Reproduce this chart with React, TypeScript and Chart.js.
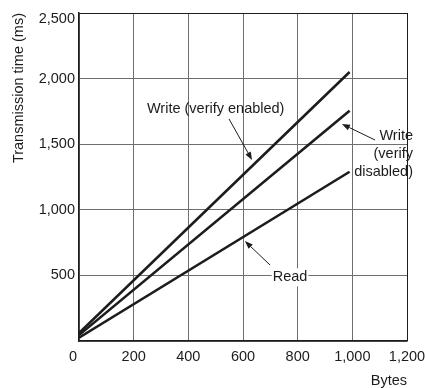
import React, { useEffect, useRef } from "react";
import { Chart, registerables } from "chart.js";

Chart.register(...registerables);

const bytes = [0, 990];
const writeEnabled = [60, 2050];
const writeDisabled = [45, 1755];
const readTimes = [25, 1290];

const xTicks = [0, 200, 400, 600, 800, 1000, 1200];
const yTicks = [0, 500, 1000, 1500, 2000, 2500];

const labelEnabled = { lines: ["Write (verify enabled)"], x: 500, y: 1768, align: "center", bg: false };
const labelDisabled = { lines: ["Write", "(verify", "disabled)"], x: 1222, y: 1425, align: "right", bg: false };
const labelRead = { lines: ["Read"], x: 772, y: 485, align: "center", bg: true };

const arrowEnabled = { from: [549, 1692], to: [633, 1380] };
const arrowDisabled = { from: [1083, 1532], to: [962, 1654] };
const arrowRead = { from: [699, 579], to: [607, 762] };

const FONT = "'Liberation Sans', Arial, Helvetica, sans-serif";
const FS = 14.5;
const INK = "#1c1c1c";

const annotationPlugin = {
  id: "annots",
  afterDatasetsDraw(chart: any) {
    const ctx = chart.ctx;
    const xs = chart.scales.x;
    const ys = chart.scales.y;
    ctx.save();
    ctx.font = `${FS}px ${FONT}`;
    ctx.textBaseline = "middle";
    const lineGap = 18;
    for (const lab of [labelEnabled, labelDisabled, labelRead]) {
      const px = xs.getPixelForValue(lab.x);
      const py = ys.getPixelForValue(lab.y);
      const n = lab.lines.length;
      lab.lines.forEach((t, i) => {
        const yy = py + (i - (n - 1) / 2) * lineGap;
        const w = ctx.measureText(t).width;
        let left = px;
        if (lab.align === "center") left = px - w / 2;
        else if (lab.align === "right") left = px - w;
        if (lab.bg) {
          ctx.fillStyle = "#ffffff";
          ctx.fillRect(left - 1, yy - 9, w + 2, 18);
        }
        ctx.fillStyle = INK;
        ctx.textAlign = "left";
        ctx.fillText(t, left, yy);
      });
    }
    for (const a of [arrowEnabled, arrowDisabled, arrowRead]) {
      const x1 = xs.getPixelForValue(a.from[0]);
      const y1 = ys.getPixelForValue(a.from[1]);
      const x2 = xs.getPixelForValue(a.to[0]);
      const y2 = ys.getPixelForValue(a.to[1]);
      const ang = Math.atan2(y2 - y1, x2 - x1);
      const hl = 8;
      const hw = 3;
      const bx = x2 - hl * Math.cos(ang);
      const by = y2 - hl * Math.sin(ang);
      ctx.strokeStyle = INK;
      ctx.lineWidth = 1;
      ctx.beginPath();
      ctx.moveTo(x1, y1);
      ctx.lineTo(bx, by);
      ctx.stroke();
      ctx.fillStyle = INK;
      ctx.beginPath();
      ctx.moveTo(x2, y2);
      ctx.lineTo(bx + hw * Math.sin(ang), by - hw * Math.cos(ang));
      ctx.lineTo(bx - hw * Math.sin(ang), by + hw * Math.cos(ang));
      ctx.closePath();
      ctx.fill();
    }
    ctx.restore();
  },
};

export default function App() {
  const ref = useRef<HTMLCanvasElement | null>(null);
  useEffect(() => {
    if (!ref.current) return;
    const mk = (vals: number[]) => bytes.map((b, i) => ({ x: b, y: vals[i] }));
    const ds = (label: string, vals: number[]) => ({
      label,
      data: mk(vals),
      borderColor: INK,
      borderWidth: 2.6,
      pointRadius: 0,
      fill: false,
      tension: 0,
    });
    const gridColor = (c: any) => {
      const v = c.tick && c.tick.value;
      return v === 1200 || v === 2500 ? INK : "#6e6e6e";
    };
    const chart = new Chart(ref.current, {
      type: "line",
      data: {
        datasets: [
          ds("Write (verify enabled)", writeEnabled),
          ds("Write (verify disabled)", writeDisabled),
          ds("Read", readTimes),
        ],
      },
      options: {
        animation: false,
        responsive: false,
        layout: { padding: { left: 0, right: 18, top: 13, bottom: 0 } },
        plugins: { legend: { display: false }, tooltip: { enabled: false } },
        scales: {
          x: {
            type: "linear",
            min: 0,
            max: 1200,
            afterBuildTicks: (s: any) => {
              s.ticks = xTicks.map((v) => ({ value: v }));
            },
            afterFit: (s: any) => {
              s.height = 47;
              s.paddingLeft = 0;
              s.paddingRight = 0;
            },
            ticks: {
              color: INK,
              font: { family: FONT, size: FS },
              padding: 7,
              maxRotation: 0,
              callback: (v: any) => (v === 0 ? "0   " : Number(v).toLocaleString("en-US")),
            },
            grid: { color: gridColor, lineWidth: 1, drawTicks: false },
            border: { color: INK, width: 1.5 },
            title: {
              display: true,
              text: "Bytes",
              align: "end",
              color: INK,
              font: { family: FONT, size: FS, lineHeight: 1 },
              padding: { top: 0, bottom: 0 },
            },
          },
          y: {
            type: "linear",
            min: 0,
            max: 2500,
            afterBuildTicks: (s: any) => {
              s.ticks = yTicks.map((v) => ({ value: v }));
            },
            afterFit: (s: any) => {
              s.width = 79;
              s.paddingTop = 0;
              s.paddingBottom = 0;
            },
            ticks: {
              color: INK,
              font: (c: any) =>
                c.tick && c.tick.value === 2500
                  ? { family: FONT, size: FS, lineHeight: "12px" }
                  : { family: FONT, size: FS },
              padding: 4,
              callback: (v: any) =>
                v === 0 ? "" : v === 2500 ? ["", Number(v).toLocaleString("en-US")] : Number(v).toLocaleString("en-US"),
            },
            grid: { color: gridColor, lineWidth: 1, drawTicks: false },
            border: { color: INK, width: 1.5 },
            title: {
              display: true,
              text: "Transmission time (ms)",
              align: "end",
              color: INK,
              font: { family: FONT, size: FS },
              padding: { top: 10, bottom: 0 },
            },
          },
        },
      },
      plugins: [annotationPlugin],
    } as any);
    return () => chart.destroy();
  }, []);
  return (
    <div style={{ position: "fixed", left: 0, top: 0, width: 425, height: 388, background: "#fff" }}>
      <canvas ref={ref} width={425} height={388} />
    </div>
  );
}
